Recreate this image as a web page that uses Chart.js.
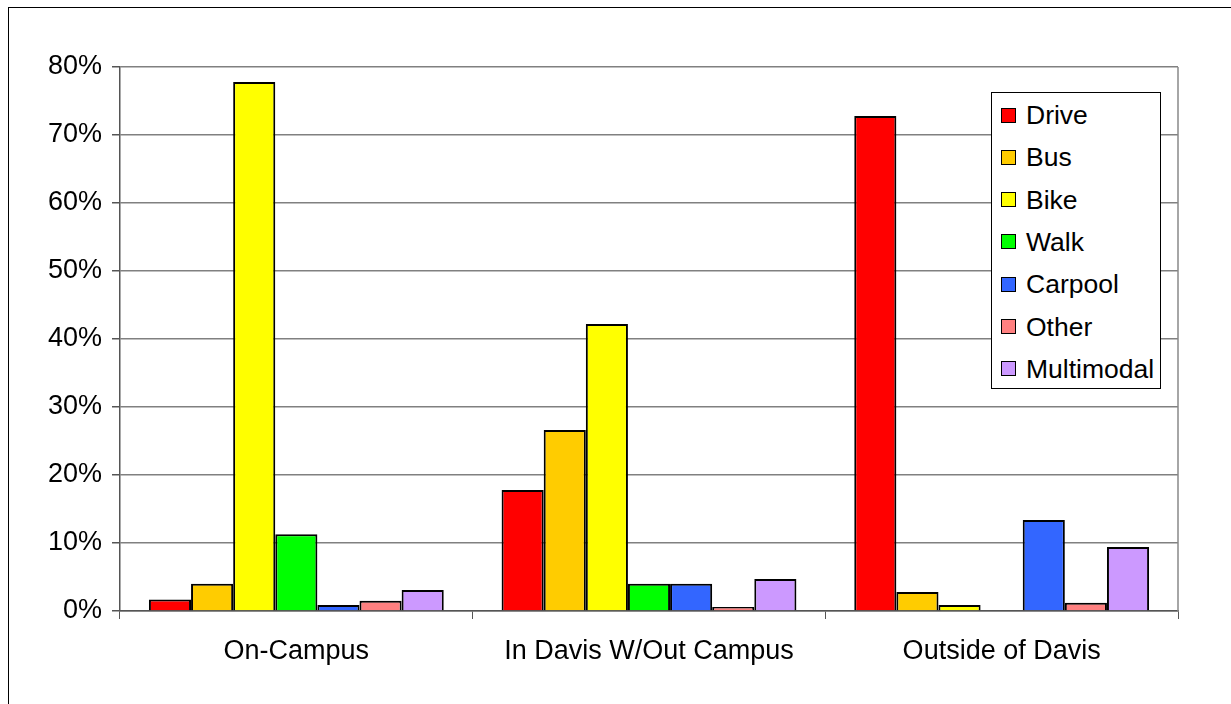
<!DOCTYPE html>
<html>
<head>
<meta charset="utf-8">
<script src="https://cdn.jsdelivr.net/npm/chart.js@4"></script>
<style>
  html, body { margin: 0; padding: 0; background: #fff; overflow: hidden; }
  #wrap { position: relative; width: 1231px; height: 704px; }
  #frame { position: absolute; left: 8px; top: 7px; width: 1260px; height: 740px; border: 1.5px solid #000; box-sizing: border-box; }
  canvas { position: absolute; left: 0; top: 0; }
  #legend {
    position: absolute; left: 991px; top: 92px; width: 170px; height: 297px;
    border: 1px solid #000; background: #fff; box-sizing: border-box;
    font-family: "Liberation Sans", Arial, sans-serif; font-size: 26.5px; color: #000;
  }
  .item { position: absolute; left: 9px; height: 30px; line-height: 30px; white-space: nowrap; }
  .sw { display: inline-block; width: 13px; height: 13px; border: 1.5px solid #000; vertical-align: middle; margin-right: 10px; position: relative; top: -2px; }
</style>
</head>
<body>
<div id="wrap">
  <div id="frame"></div>
  <canvas id="chart" width="1231" height="704"></canvas>
  <div id="legend"></div>
</div>
<script>
const categories = ["On-Campus", "In Davis W/Out Campus", "Outside of Davis"];
const modes = ["Drive", "Bus", "Bike", "Walk", "Carpool", "Other", "Multimodal"];
const colors = ["#ff0000", "#ffcc00", "#ffff00", "#00ff00", "#3366ff", "#ff8080", "#cc99ff"];

// percent share per mode, in category order
const drive = [1.7, 17.8, 72.8];
const bus = [4.0, 26.6, 2.8];
const bike = [77.8, 42.2, 0.9];
const walk = [11.3, 4.0, 0];
const carpool = [0.9, 4.0, 13.4];
const other = [1.5, 0.6, 1.2];
const multimodal = [3.1, 4.7, 9.4];

const seriesValues = [drive, bus, bike, walk, carpool, other, multimodal];
const yTicks = [0, 10, 20, 30, 40, 50, 60, 70, 80];

const datasets = modes.map(function (m, i) {
  return {
    label: m,
    data: seriesValues[i],
    backgroundColor: colors[i],
    borderColor: "#000",
    borderWidth: 2,
    borderSkipped: "start",
    categoryPercentage: 0.836,
    barPercentage: 1.0
  };
});

// right edge line of the plot area
const rightEdge = {
  id: "rightEdge",
  afterDraw: function (chart) {
    const a = chart.chartArea;
    const ctx = chart.ctx;
    ctx.save();
    ctx.strokeStyle = "#888";
    ctx.lineWidth = 1.5;
    ctx.beginPath();
    ctx.moveTo(a.right, a.top);
    ctx.lineTo(a.right, a.bottom);
    ctx.stroke();
    ctx.restore();
  }
};

const font = { family: "Liberation Sans, Arial, sans-serif", size: 27 };

new Chart(document.getElementById("chart").getContext("2d"), {
  type: "bar",
  data: { labels: categories, datasets: datasets },
  plugins: [rightEdge],
  options: {
    responsive: false,
    animation: false,
    layout: { padding: { top: 67, right: 53, left: 0, bottom: 0 } },
    plugins: { legend: { display: false }, tooltip: { enabled: false } },
    scales: {
      x: {
        offset: true,
        grid: { drawOnChartArea: false, drawTicks: true, tickLength: 8, color: "#555", offset: true },
        border: { color: "#555", width: 1.5 },
        ticks: { color: "#000", font: font, padding: 16 },
        afterFit: function (s) { s.height = 93; }
      },
      y: {
        min: 0,
        max: 80,
        afterBuildTicks: function (s) { s.ticks = yTicks.map(function (v) { return { value: v }; }); },
        grid: { color: "#808080", lineWidth: 1.5, tickLength: 8, tickColor: "#555" },
        border: { color: "#555", width: 1.5 },
        ticks: { color: "#000", font: font, padding: 10, callback: function (v) { return v + "%"; } },
        afterFit: function (s) { s.width = 120; }
      }
    }
  }
});

// legend inside the plot, built from the same arrays
const leg = document.getElementById("legend");
modes.forEach(function (m, i) {
  const d = document.createElement("div");
  d.className = "item";
  d.style.top = (7 + i * 42.3) + "px";
  d.innerHTML = '<span class="sw" style="background:' + colors[i] + '"></span>' + m;
  leg.appendChild(d);
});
</script>
</body>
</html>
